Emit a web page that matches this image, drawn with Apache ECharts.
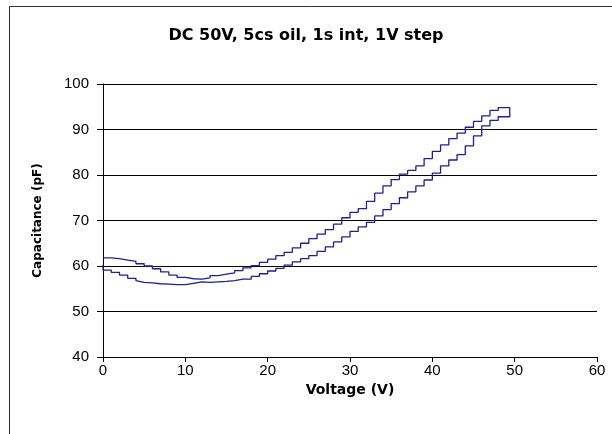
<!DOCTYPE html>
<html>
<head>
<meta charset="utf-8">
<script src="https://cdn.jsdelivr.net/npm/echarts@6/dist/echarts.min.js"></script>
<style>
  html, body { margin: 0; padding: 0; background: #fff; }
  #chart { width: 612px; height: 434px; }
</style>
</head>
<body>
<div id="chart"></div>
<script>
// rising sweep (upper branch)
const upVolts = [0,1,2,3,4,5,6,7,8,9,10,11,12,13,14,15,16,17,18,19,20,21,22,23,24,25,26,27,28,29,30,31,32,33,34,35,36,37,38,39,40,41,42,43,44,45,46,47,48,49.4];
const upCap = [61.8,61.6,61.3,61.0,60.5,60.0,59.4,58.7,58.0,57.5,57.2,57.1,57.4,57.9,58.2,58.5,59.0,59.6,60.1,60.8,61.5,62.3,63.0,64.0,65.0,66.0,67.0,68.0,69.2,70.6,71.8,72.6,74.2,76.0,77.6,79.0,80.2,81.0,82.0,83.6,85.2,86.6,88.0,89.2,90.5,91.8,93.0,94.2,94.8,94.9];
// falling sweep (lower branch)
const downVolts = [49.4,48,47,46,45,44,43,42,41,40,39,38,37,36,35,34,33,32,31,30,29,28,27,26,25,24,23,22,21,20,19,18,17,16,15,14,13,12,11,10,9,8,7,6,5,4,3,2,1,0];
const downCap = [92.8,92.0,90.8,88.6,86.4,84.5,83.3,82.0,80.4,78.9,77.6,76.3,75.0,73.7,72.4,71.0,69.6,68.6,67.6,66.4,65.3,64.2,63.2,62.3,61.6,60.9,60.2,59.5,58.9,58.3,57.7,57.1,56.8,56.6,56.5,56.4,56.5,56.2,55.9,55.9,56.0,56.1,56.3,56.4,56.8,57.3,58.0,58.6,59.1,60.2];

const xTicks = [0, 60, 10];
const yTicks = [40, 100, 10];

let loop = [];
upVolts.forEach((v, i) => loop.push([v, upCap[i]]));
downVolts.forEach((v, i) => loop.push([v, downCap[i]]));

const labelFont = '"Liberation Sans", Arial, sans-serif';
const titleFont = '"DejaVu Sans", sans-serif';
let myChart = echarts.init(document.getElementById('chart'));
myChart.setOption({
  animation: false,
  backgroundColor: '#fff',
  title: {
    text: 'DC 50V, 5cs oil, 1s int, 1V step',
    left: 'center',
    top: 23,
    textStyle: { fontFamily: titleFont, fontSize: 16, fontWeight: 'bold', color: '#000' }
  },
  graphic: [{
    type: 'rect',
    shape: { x: 9.5, y: 6.5, width: 700, height: 500 },
    style: { fill: 'none', stroke: '#333', lineWidth: 1 }
  }],
  grid: { left: 103, right: 15, top: 84, bottom: 77 },
  xAxis: {
    type: 'value',
    min: xTicks[0], max: xTicks[1], interval: xTicks[2],
    name: 'Voltage (V)',
    nameLocation: 'middle',
    nameGap: 16,
    nameTextStyle: { fontFamily: titleFont, fontSize: 14, fontWeight: 'bold', color: '#000' },
    axisLine: { lineStyle: { color: '#000', width: 1 } },
    axisTick: { show: true, length: 5, lineStyle: { color: '#000' } },
    axisLabel: { fontFamily: labelFont, fontSize: 15, color: '#000', margin: 6 },
    splitLine: { show: false }
  },
  yAxis: {
    type: 'value',
    min: yTicks[0], max: yTicks[1], interval: yTicks[2],
    name: 'Capacitance (pF)',
    nameLocation: 'middle',
    nameGap: 59,
    nameTextStyle: { fontFamily: titleFont, fontSize: 12, fontWeight: 'bold', color: '#000' },
    axisLine: { show: true, lineStyle: { color: '#000', width: 1 } },
    axisTick: { show: true, length: 6, lineStyle: { color: '#000' } },
    axisLabel: { fontFamily: labelFont, fontSize: 15, color: '#000', margin: 14 },
    splitLine: { show: true, lineStyle: { color: '#000', width: 1 } }
  },
  series: [{
    type: 'line',
    step: 'end',
    data: loop,
    showSymbol: false,
    lineStyle: { color: '#1f1f96', width: 1.3 }
  }]
});
</script>
</body>
</html>
